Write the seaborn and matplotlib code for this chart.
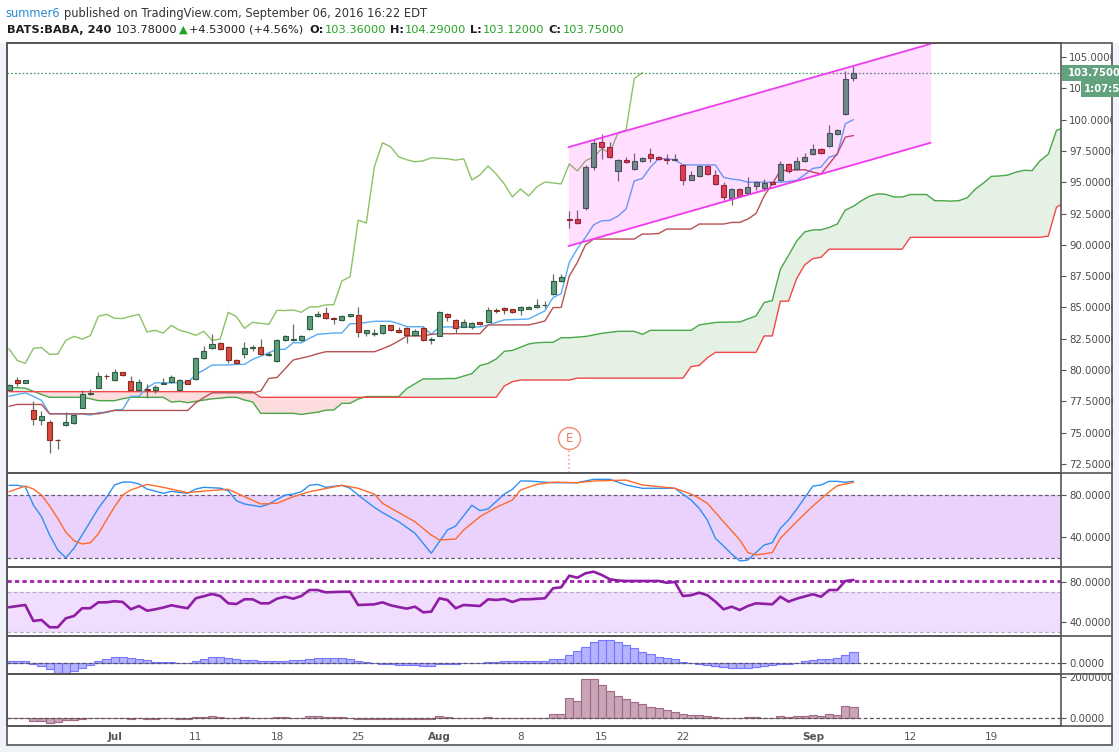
import matplotlib
matplotlib.use("Agg")
import matplotlib.pyplot as plt
from matplotlib.patches import Rectangle
from matplotlib.lines import Line2D
from matplotlib.transforms import blended_transform_factory
import numpy as np
import seaborn as sns

sns.set_theme(style="white")
plt.rcParams['font.family'] = ['DejaVu Sans']

# ---- candles, BATS:BABA 240 min (bar index 0..104) ----
bar_open = [78.4, 79.17, 79.0, 76.77, 76.02, 75.83, 74.42, 75.57, 75.8, 76.98,
            78.05, 78.58, 79.54, 79.17, 79.81, 79.09, 78.42, 78.47, 78.42, 78.9,
            79.06, 78.42, 79.17, 79.25, 80.93, 81.78, 82.13, 81.83, 80.8, 81.25,
            81.75, 81.83, 81.23, 80.72, 82.37, 82.43, 82.42, 83.25, 84.29, 84.56,
            84.15, 84.02, 84.29, 84.37, 82.93, 82.91, 82.93, 83.57, 83.17, 83.38,
            82.77, 83.33, 82.43, 82.74, 84.5, 84.02, 83.44, 83.41, 83.81, 83.84,
            84.79, 84.93, 84.85, 84.82, 84.9, 85.02, 85.18, 86.06, 87.07, 92.03,
            92.06, 92.94, 96.19, 98.23, 97.83, 95.87, 96.79, 96.06, 96.71, 97.27,
            97.03, 96.87, 96.76, 96.38, 95.18, 95.5, 96.3, 95.58, 94.78, 93.74,
            94.46, 94.14, 94.7, 94.54, 94.99, 95.18, 96.46, 96.06, 96.71, 97.27,
            97.67, 97.91, 98.87, 100.47, 103.36]
bar_high = [78.9, 79.43, 79.2, 77.5, 76.7, 75.97, 74.47, 76.63, 76.45, 78.4,
            78.5, 79.84, 79.66, 80.05, 79.85, 79.5, 79.3, 78.9, 78.8, 79.35,
            79.6, 79.3, 79.2, 81.05, 81.9, 82.85, 82.2, 81.9, 80.85, 82.25,
            81.98, 82.45, 81.4, 82.45, 82.8, 83.65, 82.8, 84.35, 84.7, 85.04,
            84.2, 84.4, 84.5, 85.0, 83.2, 83.3, 83.6, 83.6, 83.4, 83.45,
            83.25, 83.4, 82.6, 84.75, 84.55, 84.05, 84.1, 83.8, 83.85, 85.0,
            84.95, 85.05, 84.9, 85.1, 85.1, 85.7, 85.55, 87.66, 87.7, 92.73,
            92.8, 96.4, 98.43, 98.83, 98.24, 96.85, 97.05, 97.3, 97.0, 97.7,
            97.1, 97.23, 97.23, 96.45, 95.9, 96.35, 96.35, 95.97, 94.99, 94.5,
            94.5, 95.45, 95.1, 95.23, 95.05, 96.67, 96.5, 96.99, 97.3, 98.03,
            97.7, 99.59, 99.25, 103.85, 104.29]
bar_low = [78.3, 78.71, 78.95, 75.6, 75.57, 73.38, 73.67, 75.5, 75.7, 76.95,
           78.0, 78.55, 79.3, 79.1, 79.55, 78.4, 78.4, 77.78, 78.2, 78.85,
           79.0, 78.3, 78.85, 79.2, 80.85, 81.65, 81.6, 80.55, 80.45, 80.95,
           81.5, 81.2, 81.1, 80.65, 82.3, 82.35, 82.35, 83.2, 84.25, 84.05,
           83.65, 83.9, 84.25, 82.66, 82.7, 82.7, 82.9, 83.15, 82.98, 82.18,
           82.7, 82.3, 82.05, 82.7, 83.9, 82.95, 83.4, 83.25, 83.6, 83.8,
           84.55, 84.5, 84.55, 84.4, 84.85, 84.95, 84.98, 86.0, 87.0, 91.34,
           91.7, 92.8, 96.0, 96.87, 96.95, 95.07, 96.5, 96.0, 96.65, 96.64,
           96.8, 96.43, 96.7, 94.78, 95.15, 95.45, 95.6, 94.8, 93.58, 93.2,
           93.84, 94.1, 94.35, 94.27, 94.8, 95.1, 95.7, 96.0, 96.65, 97.2,
           97.25, 97.85, 98.8, 100.4, 103.12]
bar_close = [78.8, 79.0, 79.17, 76.05, 76.29, 74.37, 74.38, 75.83, 76.39, 78.05,
             78.16, 79.49, 79.5, 79.81, 79.62, 78.42, 79.01, 78.43, 78.63, 79.0,
             79.43, 79.17, 78.9, 80.93, 81.52, 82.05, 81.7, 80.77, 80.53, 81.73,
             81.8, 81.25, 81.27, 82.37, 82.69, 82.47, 82.74, 84.29, 84.45, 84.13,
             84.11, 84.29, 84.45, 83.04, 83.17, 82.95, 83.57, 83.17, 83.01, 82.77,
             83.09, 82.37, 82.47, 84.61, 84.26, 83.33, 83.81, 83.73, 83.65, 84.77,
             84.75, 84.8, 84.61, 85.04, 85.04, 85.2, 85.22, 87.12, 87.44, 91.97,
             91.74, 96.25, 98.15, 97.83, 97.03, 96.79, 96.63, 96.71, 96.95, 96.91,
             96.87, 96.76, 96.87, 95.18, 95.58, 96.3, 95.66, 94.86, 93.82, 94.46,
             93.9, 94.62, 95.02, 94.94, 94.86, 96.46, 95.9, 96.71, 97.03, 97.67,
             97.35, 98.95, 99.19, 103.27, 103.75]

# ---- ichimoku ----
tenkan = [77.9, 78.05, 78.17, 77.9, 77.57, 76.5, 76.5, 76.5, 76.5, 76.5,
          76.4, 76.6, 76.6, 76.8, 76.85, 77.9, 77.9, 78.58, 78.98, 78.98,
          78.98, 78.98, 78.98, 79.65, 80.0, 80.4, 80.4, 80.4, 80.45, 80.45,
          80.85, 81.1, 81.38, 81.65, 81.65, 82.18, 82.18, 82.53, 82.85, 82.9,
          82.96, 82.96, 83.7, 83.7, 83.8, 83.89, 83.89, 83.89, 83.7, 83.46,
          83.46, 83.46, 82.85, 83.44, 83.44, 83.44, 83.44, 83.44, 83.44, 83.6,
          83.8, 84.0, 84.03, 84.05, 84.08, 84.4, 84.72, 85.79, 86.1, 88.6,
          89.7, 90.6, 91.6, 91.92, 91.95, 92.3, 92.86, 95.1, 95.3, 96.2,
          96.87, 96.87, 96.8, 96.38, 96.38, 96.38, 96.38, 96.38, 95.39, 95.25,
          95.18, 95.0, 95.0, 95.0, 95.0, 95.0, 95.05, 95.15, 95.6, 96.1,
          96.2, 97.0, 97.2, 99.67, 100.0]
kijun = [77.1, 77.25, 77.25, 77.25, 77.25, 76.5, 76.5, 76.5, 76.5, 76.5,
         76.5, 76.5, 76.66, 76.77, 76.77, 76.77, 76.77, 76.77, 76.77, 76.77,
         76.77, 76.77, 76.77, 77.38, 77.8, 78.18, 78.18, 78.18, 78.18, 78.18,
         78.18, 78.32, 79.33, 79.4, 80.1, 80.8, 80.95, 81.1, 81.3, 81.46,
         81.46, 81.46, 81.46, 81.46, 81.46, 81.46, 81.7, 81.97, 82.32, 82.72,
         82.72, 82.72, 82.85, 82.9, 82.9, 82.9, 82.9, 82.9, 82.9, 83.6,
         83.6, 83.6, 83.6, 83.6, 83.6, 83.75, 83.92, 84.98, 85.0, 87.5,
         88.6, 90.0, 90.46, 90.46, 90.46, 90.46, 90.46, 90.46, 90.86, 90.86,
         90.9, 91.26, 91.26, 91.26, 91.26, 91.66, 91.66, 91.66, 91.66, 91.79,
         91.79, 92.06, 92.5, 93.9, 94.86, 95.93, 95.95, 95.98, 96.0, 95.8,
         95.66, 96.46, 97.27, 98.6, 98.73]
# leading spans run 26 bars past the last candle (index 0..130)
span_a = [78.59, 78.59, 78.55, 78.3, 78.05, 77.82, 77.82, 77.82, 77.82, 77.82,
          77.71, 77.55, 77.55, 77.55, 77.71, 77.82, 77.82, 77.82, 77.82, 77.82,
          77.44, 77.5, 77.39, 77.5, 77.6, 77.7, 77.75, 77.82, 77.82, 77.6,
          77.45, 76.54, 76.54, 76.54, 76.54, 76.54, 76.45, 76.55, 76.63, 76.79,
          76.81, 77.34, 77.34, 77.68, 77.88, 77.88, 77.88, 77.88, 77.88, 78.52,
          78.9, 79.29, 79.29, 79.29, 79.32, 79.32, 79.52, 79.71, 80.36, 80.53,
          80.88, 81.49, 81.57, 81.82, 82.08, 82.18, 82.21, 82.21, 82.58, 82.58,
          82.63, 82.68, 82.8, 82.93, 83.01, 83.09, 83.09, 83.09, 82.85, 83.17,
          83.17, 83.17, 83.17, 83.17, 83.17, 83.6, 83.7, 83.8, 83.82, 83.83,
          83.84, 84.08, 84.32, 85.39, 85.55, 88.05, 89.15, 90.3, 91.03, 91.19,
          91.2, 91.38, 91.66, 92.78, 93.08, 93.53, 93.89, 94.07, 94.03, 93.82,
          93.82, 94.02, 94.02, 94.02, 93.53, 93.52, 93.49, 93.53, 93.75, 94.45,
          94.93, 95.47, 95.5, 95.57, 95.8, 95.95, 95.93, 96.73, 97.24, 99.14,
          99.37]
span_b = [78.27, 78.27, 78.27, 78.27, 78.27, 78.27, 78.27, 78.27, 78.27, 78.27,
          78.27, 78.27, 78.27, 78.27, 78.27, 78.27, 78.27, 78.27, 78.27, 78.27,
          78.27, 78.27, 78.27, 78.27, 78.27, 78.27, 78.27, 78.27, 78.27, 78.27,
          78.27, 77.82, 77.82, 77.82, 77.82, 77.82, 77.82, 77.82, 77.82, 77.82,
          77.82, 77.82, 77.82, 77.82, 77.82, 77.82, 77.82, 77.82, 77.82, 77.82,
          77.82, 77.82, 77.82, 77.82, 77.82, 77.82, 77.82, 77.82, 77.82, 77.82,
          77.82, 78.72, 79.07, 79.2, 79.2, 79.2, 79.2, 79.2, 79.2, 79.2,
          79.35, 79.35, 79.35, 79.35, 79.35, 79.35, 79.35, 79.35, 79.35, 79.35,
          79.35, 79.35, 79.35, 79.35, 80.27, 80.37, 80.97, 81.41, 81.41, 81.41,
          81.41, 81.41, 81.41, 82.72, 82.72, 85.5, 85.5, 87.3, 88.4, 88.9,
          89.0, 89.65, 89.65, 89.65, 89.65, 89.65, 89.65, 89.65, 89.65, 89.65,
          89.65, 90.6, 90.6, 90.6, 90.6, 90.6, 90.6, 90.6, 90.6, 90.6,
          90.6, 90.6, 90.6, 90.6, 90.6, 90.6, 90.6, 90.6, 90.7, 93.0,
          93.4]
lag_shift = 26  # lagging span = close drawn 26 bars back

# ---- regression channel drawing (bar index, price) ----
channel_x = [68.9, 113.5]
channel_upper = [97.8, 106.05]
channel_lower = [89.9, 98.15]
last_close = 103.75
earnings_bar = 69

# ---- stochastic (breakpoints) ----
k_bars = [0, 1, 2, 3, 4, 5, 6, 7, 8, 9, 10, 11, 12, 13, 14, 15, 16, 17, 19, 20,
          22, 23, 24, 26, 27, 28, 29, 31, 32, 34, 35, 36, 37, 38, 39, 41, 42, 43, 45, 46,
          48, 50, 52, 54, 55, 57, 58, 59, 61, 62, 63, 64, 67, 70, 72, 74, 76, 78, 82, 84,
          85, 86, 87, 88, 89, 90, 91, 93, 94, 95, 96, 97, 99, 100, 101, 102, 103, 104]
stoch_k = [88.7, 88.7, 87.4, 70, 59, 41.6, 27.4, 20.1, 29, 41.6, 54.2, 66.9, 77.3, 89, 91.8, 91.8, 90, 85.2, 81.1, 83,
           81.1, 85.2, 86.8, 86, 83.6, 74.1, 71, 68.4, 71, 79.5, 80.4, 82.6, 88.7, 89.6, 86.8, 88.7, 85.9, 79.5, 67.8, 62.8,
           54.2, 43.2, 24.3, 46.4, 50.1, 69.8, 64.7, 66.3, 80.4, 84.9, 92.8, 92.8, 91.2, 91.2, 94.4, 94.4, 89, 85.9, 85.9, 74.8,
           66.9, 55.8, 38.5, 31.2, 23.6, 17, 17.9, 32.1, 34.3, 48, 55.8, 66, 88, 89, 92.5, 92.5, 91.6, 92.5]
d_bars = [0, 2, 3, 4, 5, 6, 7, 8, 9, 10, 11, 12, 13, 14, 15, 17, 19, 22, 24, 27,
          29, 31, 33, 35, 37, 41, 43, 45, 46, 48, 50, 52, 53, 55, 56, 58, 60, 62, 63, 65,
          67, 70, 72, 76, 78, 82, 84, 85, 86, 88, 90, 91, 92, 94, 95, 97, 99, 101, 102, 104]
stoch_d = [82.6, 88, 85.2, 79.5, 69.1, 57.4, 44.2, 36.2, 33.1, 34.3, 42.6, 55.8, 68.4, 79.5, 84.3, 89.6, 86.8, 81.7, 83.3, 84.9,
           77.9, 71, 71.7, 77.9, 82.6, 88.7, 85.9, 80.4, 71.7, 62.8, 54.2, 41.6, 36.9, 37.8, 46.4, 59, 67.8, 74.8, 84.3, 89.6,
           91.7, 91.2, 92.8, 93.7, 89, 85.9, 80.4, 76.4, 71.7, 54.2, 36.9, 24.9, 22.7, 24.9, 38.5, 54.2, 69.1, 82.6, 88.3, 91.6]

# ---- RSI ----
rsi = [54.8, 56.0, 57.1, 40.9, 41.9, 34.5, 34.5, 43.6, 45.9, 53.8,
       53.8, 59.8, 59.8, 60.9, 60.2, 52.7, 56.1, 51.3, 52.7, 54.5,
       56.8, 55.2, 53.8, 63.9, 66.0, 68.3, 66.2, 58.8, 58.1, 62.9,
       62.9, 58.8, 58.8, 63.5, 65.5, 63.5, 66.2, 72.3, 72.3, 70.0,
       70.3, 70.5, 70.6, 57.1, 57.4, 57.8, 59.8, 56.8, 55.0, 53.4,
       55.4, 49.7, 50.3, 63.9, 62.2, 53.8, 57.1, 56.6, 56.1, 62.9,
       62.2, 63.2, 60.2, 62.9, 62.9, 63.4, 63.9, 74.1, 75.1, 86.9,
       84.8, 89.3, 90.9, 87.6, 83.2, 82.0, 81.5, 81.5, 81.5, 81.5,
       81.5, 79.7, 80.5, 66.2, 67.0, 69.6, 67.0, 60.5, 52.7, 55.4,
       52.0, 56.1, 58.8, 58.3, 57.8, 65.5, 60.5, 63.5, 65.8, 68.0,
       65.5, 72.3, 72.3, 81.5, 82.5]
rsi_marker_level = 81.8

# ---- histogram oscillator ----
osc_hist = [0.23, 0.23, 0.23, -0.03, -0.27, -0.6, -0.94, -0.94, -0.77, -0.5,
            -0.17, 0.23, 0.43, 0.6, 0.6, 0.5, 0.4, 0.33, 0.1, 0.1,
            0.1, 0.07, 0.02, 0.27, 0.4, 0.6, 0.6, 0.5, 0.4, 0.33,
            0.33, 0.23, 0.23, 0.23, 0.23, 0.33, 0.33, 0.43, 0.5, 0.5,
            0.5, 0.5, 0.4, 0.23, 0.1, 0.02, -0.1, -0.1, -0.17, -0.17,
            -0.17, -0.27, -0.27, -0.1, -0.02, -0.02, 0.0, 0.0, 0.02, 0.1,
            0.1, 0.23, 0.23, 0.23, 0.23, 0.23, 0.23, 0.4, 0.4, 0.83,
            1.23, 1.6, 2.1, 2.3, 2.3, 2.1, 1.8, 1.5, 1.16, 0.9,
            0.66, 0.5, 0.4, 0.16, 0.02, -0.1, -0.17, -0.27, -0.4, -0.5,
            -0.5, -0.5, -0.4, -0.27, -0.17, -0.1, -0.02, 0.07, 0.23, 0.33,
            0.4, 0.4, 0.5, 0.83, 1.1]

# ---- volume oscillator (thousands) ----
vol_osc_k = [0, 0, 0, -130, -130, -240, -190, -100, -80, -10,
             0, 0, 0, 0, 0, -50, 0, -50, -50, 0,
             0, -40, -40, 60, 60, 110, 80, 0, 0, 50,
             0, 0, 0, 50, 50, 0, 0, 110, 110, 50,
             50, 50, 0, -30, -30, -30, -30, -30, -30, -30,
             -30, -30, -30, 110, 50, 0, 0, 0, 0, 50,
             0, 0, 0, 0, 0, 0, 0, 210, 210, 960,
             830, 1875, 1875, 1590, 1310, 1070, 913, 770, 673, 560,
             480, 400, 320, 190, 160, 160, 110, 50, 0, 0,
             0, 50, 50, 0, 0, 110, 50, 110, 110, 160,
             110, 210, 160, 590, 545]

price_ticks = [72.5, 75.0, 77.5, 80.0, 82.5, 85.0, 87.5, 90.0, 92.5, 95.0, 97.5, 100.0, 102.5, 105.0]
date_tick_bars = [13, 23, 33, 43, 53, 63, 73, 83, 99, 111, 121]
date_tick_labels = ['Jul', '11', '18', '25', 'Aug', '8', '15', '22', 'Sep', '12', '19']
month_labels = ['Jul', 'Aug', 'Sep']

# ---------------------------------------------------------------
W, H = 1119, 752
BG = '#f0f3f7'
fig = plt.figure(figsize=(W / 100, H / 100), dpi=100, facecolor=BG)


def fx(px):
    return px / W


def fy(py):
    return 1 - py / H


XLIM = (-0.31, 129.56)

fig.patches.append(Rectangle((0, fy(43)), 1, 1 - fy(43), transform=fig.transFigure,
                             facecolor='white', edgecolor='none', zorder=-5))
fig.patches.append(Rectangle((fx(6.5), fy(745)), fx(1112) - fx(6.5), fy(43) - fy(745),
                             transform=fig.transFigure, facecolor='white', edgecolor='none', zorder=-5))


def panel(top, bottom):
    ax = fig.add_axes([fx(6.5), fy(bottom), fx(1061) - fx(6.5), (bottom - top) / H])
    ax.set_facecolor('white')
    for s in ax.spines.values():
        s.set_color('#555555')
        s.set_linewidth(1.2)
    ax.yaxis.tick_right()
    ax.tick_params(axis='y', right=True, left=False, direction='out', length=3.5, width=0.8,
                   color='#555555', labelsize=7.3, labelcolor='#4a4a4a', pad=2.5)
    ax.tick_params(axis='x', bottom=False, labelbottom=False)
    return ax


ax_main = panel(43, 473.3)
ax_st = panel(473.3, 566.7)
ax_rsi = panel(566.7, 636)
ax_hist = panel(636, 674.3)
ax_vol = panel(674.3, 726)

# ---- main price panel ----
ax = ax_main
bars = np.arange(len(bar_close))
cloud_x = np.arange(len(span_a))
sa = np.array(span_a)
sb = np.array(span_b)
ax.fill_between(cloud_x, sa, sb, where=sa >= sb, interpolate=True, color='#e4f1e4', lw=0, zorder=1)
ax.fill_between(cloud_x, sa, sb, where=sa < sb, interpolate=True, color='#fcdcdc', lw=0, zorder=1)
sns.lineplot(x=cloud_x, y=span_a, ax=ax, color='#4aa84a', linewidth=1, estimator=None, zorder=2)
sns.lineplot(x=cloud_x, y=span_b, ax=ax, color='#f04848', linewidth=1, estimator=None, zorder=2)
lag = bar_close[lag_shift:]
sns.lineplot(x=bars[:len(lag)], y=lag, ax=ax, color='#8cc266', linewidth=1, estimator=None, zorder=2)
sns.lineplot(x=bars, y=tenkan, ax=ax, color='#55acf5', linewidth=1, estimator=None, zorder=3)
sns.lineplot(x=bars, y=kijun, ax=ax, color='#b65252', linewidth=1, estimator=None, zorder=3)

o = np.array(bar_open)
c = np.array(bar_close)
up = c >= o
body_low = np.minimum(o, c)
body_h = np.maximum(np.abs(c - o), 0.05)
ax.vlines(bars, bar_low, bar_high, color='#6a6a6a', lw=0.9, zorder=4)
ax.bar(bars[up], body_h[up], bottom=body_low[up], width=0.62, color='#5d9e7b',
       edgecolor='#2e5d43', linewidth=0.8, zorder=5)
ax.bar(bars[~up], body_h[~up], bottom=body_low[~up], width=0.62, color='#d54b3c',
       edgecolor='#8c2a20', linewidth=0.8, zorder=5)

ax.fill_between(channel_x, channel_lower, channel_upper, color='#ff00ff', alpha=0.13, lw=0, zorder=6)
ax.plot(channel_x, channel_upper, color='#f03cf0', lw=1.3, zorder=7)
ax.plot(channel_x, channel_lower, color='#f03cf0', lw=1.3, zorder=7)
ax.axhline(last_close, color='#4f9b72', lw=0.9, ls=(0, (1.5, 1.5)), zorder=3)

trans = blended_transform_factory(ax.transData, ax.transAxes)
ax.plot([earnings_bar, earnings_bar], [0, 0.056], transform=trans, color='#f2a493', lw=1.2,
        ls=(0, (1, 1.5)), zorder=8, clip_on=False)
ax.plot([earnings_bar], [0.0813], transform=trans, marker='o', ms=15.8, mfc='white',
        mec='#ef8a72', mew=1.0, zorder=9)
ax.text(earnings_bar, 0.0813, 'E', transform=trans, ha='center', va='center',
        color='#ea7a5f', fontsize=8.5, zorder=10)

ax.set_ylim(71.75, 106.12)
ax.set_yticks(price_ticks)
ax.set_yticklabels([f'{v:.5f}' for v in price_ticks])

# ---- stochastic ----
ax = ax_st
ax.axhspan(20, 80, color='#ead2fd', lw=0, zorder=0)
ax.axhline(80, color='#6a5878', lw=0.9, ls=(0, (3, 2)), zorder=1)
ax.axhline(20, color='#6a5878', lw=0.9, ls=(0, (3, 2)), zorder=1)
sns.lineplot(x=k_bars, y=stoch_k, ax=ax, color='#2f8ff0', linewidth=1, estimator=None, zorder=3)
sns.lineplot(x=d_bars, y=stoch_d, ax=ax, color='#ff6a2a', linewidth=1, estimator=None, zorder=3)
ax.set_ylim(11.56, 100.1)
ax.set_yticks([40, 80])
ax.set_yticklabels(['40.0000', '80.0000'])

# ---- RSI ----
ax = ax_rsi
ax.axhspan(30, 70, color='#f1ddfd', lw=0, zorder=0)
ax.axhline(70, color='#bba8c8', lw=0.9, ls=(0, (3, 2)), zorder=1)
ax.axhline(30, color='#bba8c8', lw=0.9, ls=(0, (3, 2)), zorder=1)
ax.axhline(rsi_marker_level, color='#a020b0', lw=2, ls=(0, (1.5, 1.2)), zorder=2)
sns.lineplot(x=bars, y=rsi, ax=ax, color='#8e1fa5', linewidth=1.9, estimator=None, zorder=3)
ax.set_ylim(25.6, 96.0)
ax.set_yticks([40, 80])
ax.set_yticklabels(['40.0000', '80.0000'])

# ---- histogram ----
ax = ax_hist
sns.barplot(x=bars, y=osc_hist, ax=ax, native_scale=True, width=1, color='#b3b3ff',
            edgecolor='#7676ff', linewidth=0.8, saturation=1, errorbar=None, zorder=2)
ax.axhline(0, color='#555555', lw=0.9, ls=(0, (3, 2)), zorder=3)
ax.set_ylim(-1.1, 2.73)
ax.set_yticks([0])
ax.set_yticklabels(['0.0000'])

# ---- volume oscillator ----
ax = ax_vol
sns.barplot(x=bars, y=vol_osc_k, ax=ax, native_scale=True, width=1, color='#c9a5b8',
            edgecolor='#a36a86', linewidth=0.8, saturation=1, errorbar=None, zorder=2)
ax.axhline(0, color='#555555', lw=0.9, ls=(0, (3, 2)), zorder=3)
ax.set_ylim(-370, 2115)
ax.set_yticks([0, 2000])
ax.set_yticklabels(['0.0000', '2000000'])

for a in (ax_main, ax_st, ax_rsi, ax_hist, ax_vol):
    a.set_xlim(*XLIM)
    a.set_xlabel('')
    a.set_ylabel('')
    a.tick_params(axis='x', bottom=False, labelbottom=False)

ax_vol.set_xticks(date_tick_bars)
ax_vol.set_xticklabels(date_tick_labels)
ax_vol.tick_params(axis='x', bottom=True, labelbottom=True, length=0, pad=4.5,
                   labelsize=7.5, labelcolor='#555555')
for t in ax_vol.get_xticklabels():
    if t.get_text() in month_labels:
        t.set_fontweight('bold')

# separators across the full frame, frame, right clip strip
for yy in (473.3, 566.7, 636, 674.3, 726):
    fig.add_artist(Line2D([fx(6.5), fx(1112)], [fy(yy), fy(yy)], color='#555555', lw=1.2, zorder=5))
fig.add_artist(Rectangle((fx(1112.6), 0), 1 - fx(1112.6), fy(43), transform=fig.transFigure,
                         facecolor=BG, edgecolor='none', zorder=4))
fig.add_artist(Rectangle((fx(6.5), fy(745)), fx(1112) - fx(6.5), fy(43) - fy(745),
                         transform=fig.transFigure, facecolor='none', edgecolor='#555555',
                         lw=1.2, zorder=5))

# last price and countdown labels
fig.add_artist(Rectangle((fx(1062), fy(80.5)), 1 - fx(1062), fy(65) - fy(80.5),
                         transform=fig.transFigure, facecolor='#63a17f', edgecolor='none', zorder=6))
fig.text(fx(1068), fy(72.8), '103.75000', color='white', fontsize=7.3, fontweight='bold',
         va='center', ha='left', zorder=7)
fig.add_artist(Rectangle((fx(1081), fy(97.3)), 1 - fx(1081), fy(81.5) - fy(97.3),
                         transform=fig.transFigure, facecolor='#63a17f', edgecolor='none', zorder=6))
fig.text(fx(1084), fy(89.5), '1:07:57', color='white', fontsize=7.3, fontweight='bold',
         va='center', ha='left', zorder=7)


# header rows
def write_row(parts, x_px, baseline_px, size):
    text, color, weight, _ = parts[0]
    prev = fig.text(fx(x_px), fy(baseline_px), text, color=color, fontweight=weight,
                    fontsize=size, va='baseline', ha='left')
    for text, color, weight, gap in parts[1:]:
        prev = ax_main.annotate(text, xy=(1, 0), xycoords=prev, xytext=(gap, 0),
                                textcoords='offset pixels', color=color, fontweight=weight,
                                fontsize=size, va='bottom', ha='left', annotation_clip=False)


GREEN = '#22a322'
DARK = '#1e1e1e'
write_row([('summer6', '#2b8cd3', 'normal', 0),
           ('published on TradingView.com, September 06, 2016 16:22 EDT', '#333333', 'normal', 4)],
          5, 16.8, 8.3)
write_row([('BATS:BABA, 240', DARK, 'bold', 0),
           ('103.78000', DARK, 'normal', 4),
           ('\u25b2', GREEN, 'normal', 2),
           ('+4.53000 (+4.56%)', DARK, 'normal', 1),
           ('O:', DARK, 'bold', 6),
           ('103.36000', GREEN, 'normal', 1),
           ('H:', DARK, 'bold', 4),
           ('104.29000', GREEN, 'normal', 1),
           ('L:', DARK, 'bold', 4),
           ('103.12000', GREEN, 'normal', 1),
           ('C:', DARK, 'bold', 4),
           ('103.75000', GREEN, 'normal', 1)],
          7, 32.6, 8.17)

fig.savefig('out.png', dpi=100, facecolor=BG)
